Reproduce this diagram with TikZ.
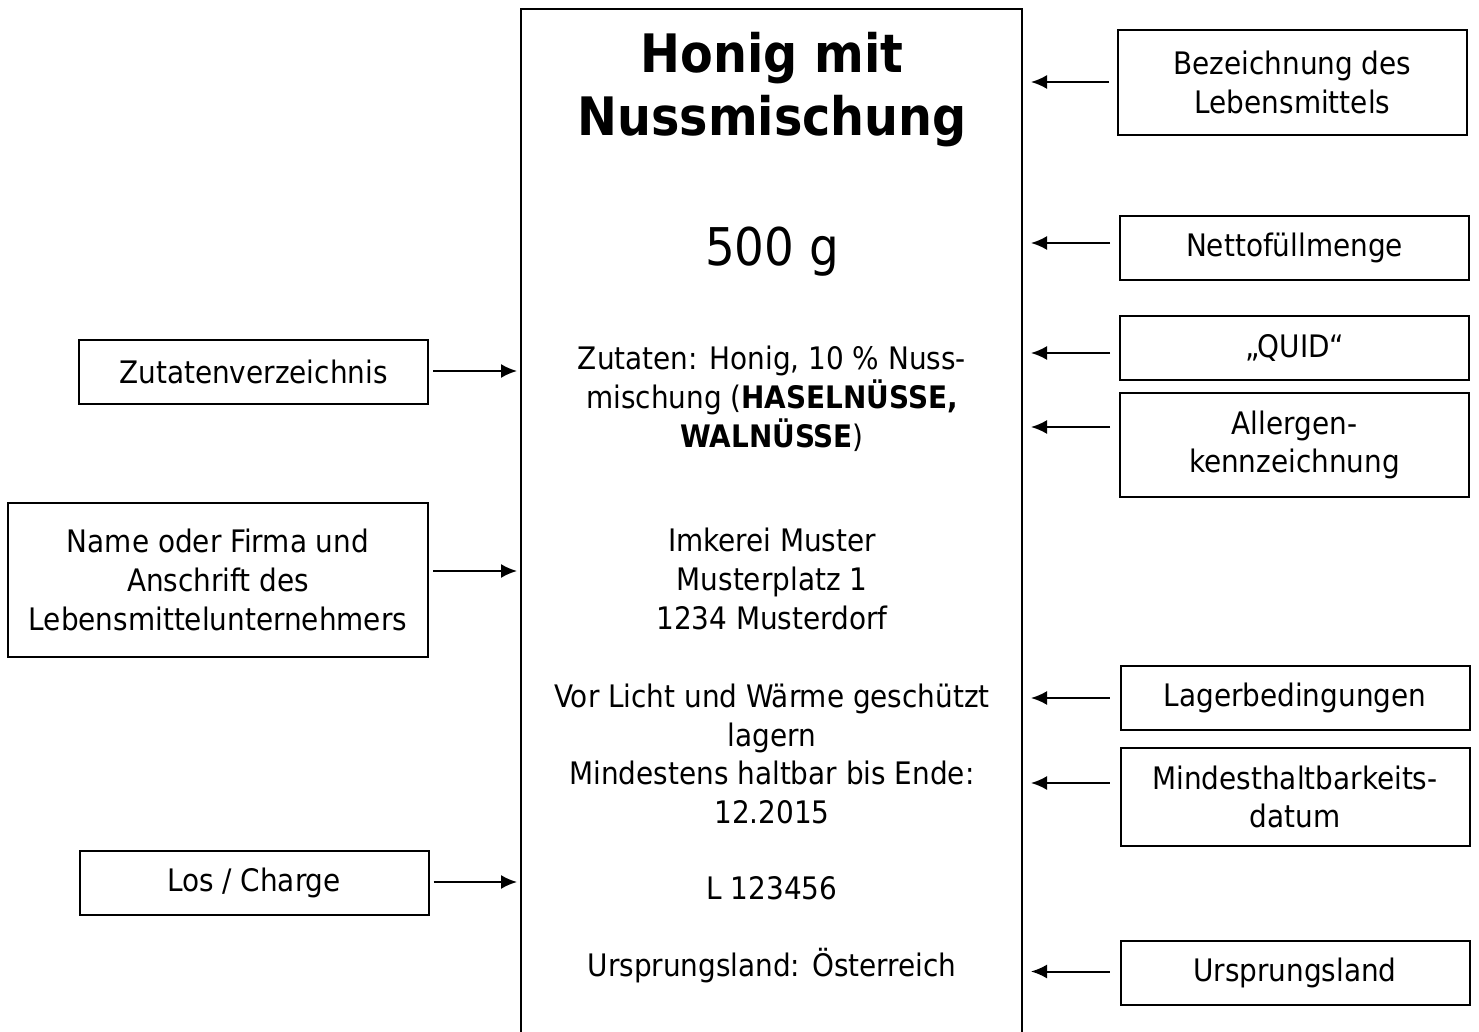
\documentclass[tikz,border=0pt]{standalone}
\usepackage{fontspec}
\setmainfont{DejaVu Sans Condensed}
\usepackage{tikz}
\usetikzlibrary{arrows.meta, positioning}

\tikzset{
  hinweis/.style={draw, line width=1pt, align=center, inner sep=2pt,
    minimum width=174.5pt, minimum height=32pt,
    font=\fontsize{15.5pt}{19.4pt}\selectfont},
  inhalt/.style={align=center, inner sep=0pt,
    font=\fontsize{15.5pt}{19.4pt}\selectfont},
  pfeil/.style={line width=1pt, -{Latex[length=8pt, width=7pt]}}
}

\begin{document}
\begin{tikzpicture}[x=0.5pt, y=-0.5pt]
    \useasboundingbox (0,0) rectangle (1479,1032);

    % Etikett (unten offen)
    \node[draw, line width=1pt, minimum width=250.5pt, minimum height=530pt,
      anchor=north, inner sep=0pt] (etikett) at (771.5,8) {};

    \node[inhalt, font=\bfseries\fontsize{26.5pt}{31.5pt}\selectfont] (titel) at (772,90) {Honig mit\\Nussmischung};
    \node[inhalt, font=\fontsize{26pt}{31pt}\selectfont] (menge) at (772,252) {500 g};
    \node[inhalt] (zutaten) at (772,399) {Zutaten: Honig, 10 \% Nuss-\\mischung (\textbf{HASELNÜSSE,}\\\textbf{WALNÜSSE})};
    \node[inhalt] (adresse) at (772,579) {Imkerei Muster\\Musterplatz 1\\1234 Musterdorf};
    \node[inhalt] (lager) at (772,754) {Vor Licht und Wärme geschützt\\lagern\\Mindestens haltbar bis Ende:\\12.2015};
    \node[inhalt] (los) at (772,888) {L 123456};
    \node[inhalt] (land) at (772,966) {Ursprungsland: Österreich};

    % rechte Seite
    \node[hinweis, minimum height=52.5pt] (bez) at (1292.5,82.5) {Bezeichnung des\\Lebensmittels};
    \node[hinweis] (netto) at (1294.5,248) {Nettofüllmenge};
    \node[hinweis] (quid) at (1294.5,348) {„QUID“};
    \node[hinweis, minimum height=52pt] (allergen) at (1294.5,445) {Allergen-\\kennzeichnung};
    \node[hinweis] (lagerung) at (1295,698) {Lagerbedingungen};
    \node[hinweis, minimum height=49pt] (mhd) at (1295,797) {Mindesthaltbarkeits-\\datum};
    \node[hinweis] (ursprung) at (1295,972.5) {Ursprungsland};

    % linke Seite
    \node[hinweis] (verzeichnis) at (253.5,372) {Zutatenverzeichnis};
    \node[hinweis, minimum width=210pt, minimum height=77pt] (firma) at (218,580) {Name oder Firma und\\Anschrift des\\Lebensmittelunternehmers};
    \node[hinweis] (charge) at (254,883) {Los / Charge};

    \draw[pfeil, shorten <=4pt, shorten >=4pt] ([yshift=0.25pt]bez.west) -- ([yshift=0.25pt]bez.west -| etikett.east);
    \draw[pfeil, shorten <=4.5pt, shorten >=4pt] ([yshift=2.5pt]netto.west) -- ([yshift=2.5pt]netto.west -| etikett.east);
    \draw[pfeil, shorten <=4.5pt, shorten >=4pt] ([yshift=-2.5pt]quid.west) -- ([yshift=-2.5pt]quid.west -| etikett.east);
    \draw[pfeil, shorten <=4.5pt, shorten >=4pt] ([yshift=9pt]allergen.west) -- ([yshift=9pt]allergen.west -| etikett.east);
    \draw[pfeil, shorten <=5pt, shorten >=4pt] (lagerung.west) -- (lagerung.west -| etikett.east);
    \draw[pfeil, shorten <=5pt, shorten >=4pt] ([yshift=7pt]mhd.west) -- ([yshift=7pt]mhd.west -| etikett.east);
    \draw[pfeil, shorten <=5pt, shorten >=4pt] ([yshift=0.5pt]ursprung.west) -- ([yshift=0.5pt]ursprung.west -| etikett.east);

    \draw[pfeil, shorten <=2pt, shorten >=1.5pt] ([yshift=0.5pt]verzeichnis.east) -- ([yshift=0.5pt]verzeichnis.east -| etikett.west);
    \draw[pfeil, shorten <=2pt, shorten >=1.5pt] ([yshift=4.5pt]firma.east) -- ([yshift=4.5pt]firma.east -| etikett.west);
    \draw[pfeil, shorten <=2pt, shorten >=1.5pt] ([yshift=0.5pt]charge.east) -- ([yshift=0.5pt]charge.east -| etikett.west);
\end{tikzpicture}
\end{document}
